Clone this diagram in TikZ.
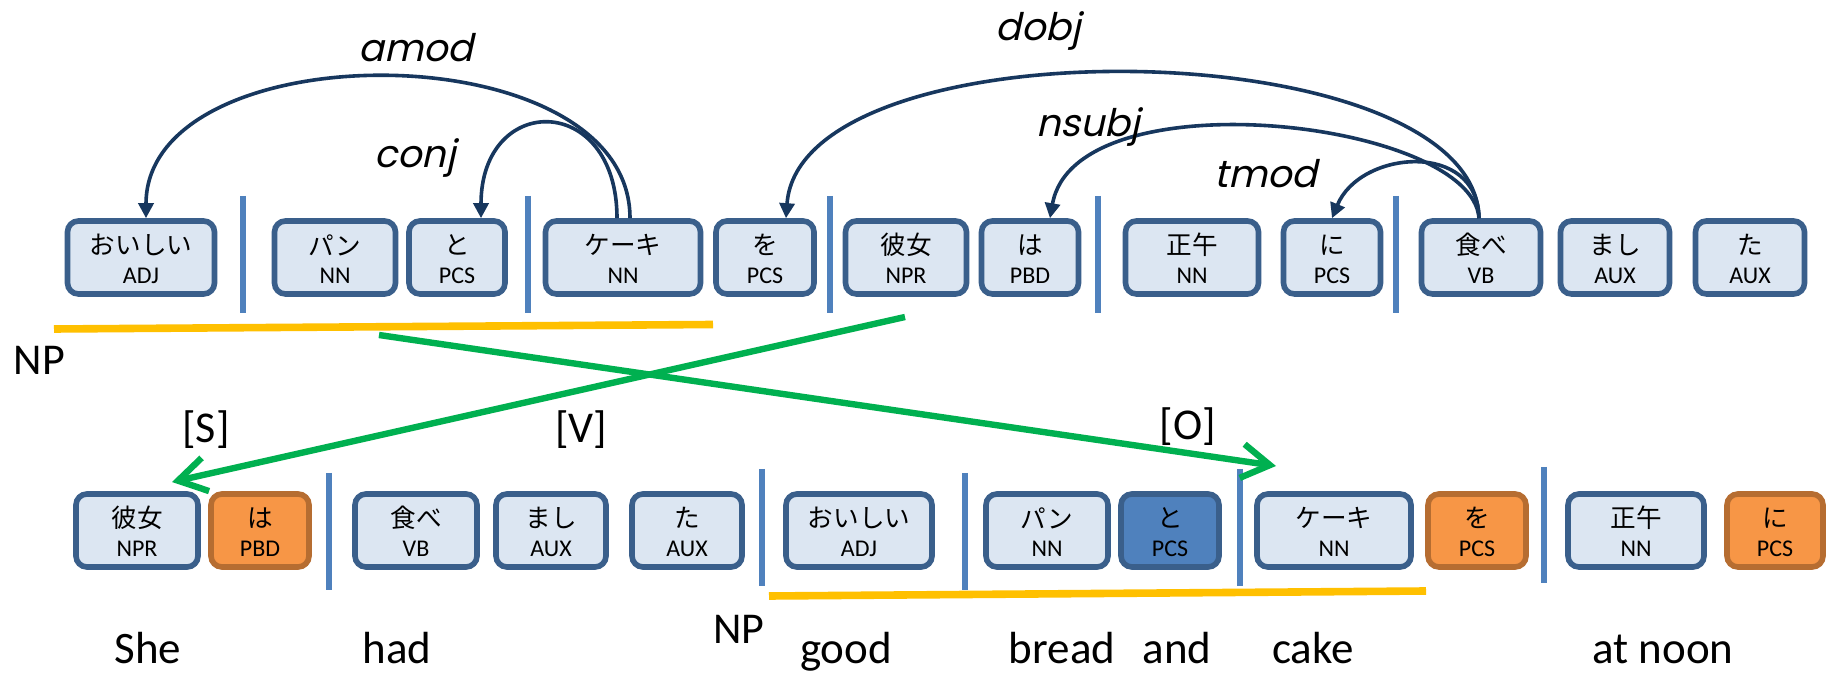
\documentclass[tikz,border=0pt]{standalone}
\usepackage{fontspec}
\setmainfont{Carlito}
\newfontfamily\jpfont{Noto Sans CJK JP}
\newfontfamily\arcfont[FakeSlant=0.22]{Poppins}
\usetikzlibrary{arrows.meta,calc}

\definecolor{boxfill}{HTML}{DCE6F2}
\definecolor{boxdraw}{HTML}{3A5F8B}
\definecolor{sepcol}{HTML}{4F81BD}
\definecolor{arccol}{HTML}{17375E}
\definecolor{grn}{HTML}{00B050}
\definecolor{ylw}{HTML}{FFC000}
\definecolor{orgfill}{HTML}{F79646}
\definecolor{orgdraw}{HTML}{B66D31}

\tikzset{
  wbox/.style={draw=boxdraw, fill=boxfill, line width=2.8pt, rounded corners=5.5pt,
               minimum height=36.5pt, inner sep=0pt},
  obox/.style={wbox, draw=orgdraw, fill=orgfill},
  dbox/.style={wbox, fill=sepcol},
  jpt/.style={font=\jpfont\fontsize{12.8pt}{14pt}\selectfont, inner sep=0pt},
  post/.style={font=\fontsize{12pt}{14pt}\selectfont, inner sep=0pt},
  sepline/.style={draw=sepcol, line width=3pt},
  ulin/.style={draw=ylw, line width=3.8pt},
  arcl/.style={draw=arccol, line width=1.8pt, -{Triangle[length=7.5pt,width=7.5pt]}},
  garrow/.style={draw=grn, line width=3.2pt, -{Straight Barb[length=14pt,width=17pt]}},
  arclab/.style={font=\arcfont\fontsize{19pt}{22pt}\selectfont, inner sep=0pt, anchor=base},
  word/.style={font=\fontsize{22.5pt}{27pt}\selectfont, inner sep=0pt, anchor=base},
  tag/.style={font=\fontsize{22pt}{26pt}\selectfont, inner sep=0pt},
}

\newcommand\mkbox[7]{%
  \node[#1, minimum width=#5] (#2) at (#3,#4) {};
  \node[jpt] (#2j) at ($(#2.center)+(0,-12.5)$) {#6};
  \node[post] (#2p) at ($(#2.center)+(0,18.5)$) {#7};
}

\begin{document}
\begin{tikzpicture}[x=0.5pt, y=-0.5pt]
\fill[white] (0,0) rectangle (1827,673);
\useasboundingbox (0,0) rectangle (1827,673);

% ---- top row ----
\mkbox{wbox}{t1}{141}{257.5}{73.5pt}{おいしい}{ADJ}
\mkbox{wbox}{t2}{335}{257.5}{60.5pt}{パン}{NN}
\mkbox{wbox}{t3}{457}{257.5}{48pt}{と}{PCS}
\mkbox{wbox}{t4}{623}{257.5}{77.5pt}{ケーキ}{NN}
\mkbox{wbox}{t5}{765}{257.5}{49pt}{を}{PCS}
\mkbox{wbox}{t6}{906}{257.5}{60.5pt}{彼女}{NPR}
\mkbox{wbox}{t7}{1030}{257.5}{48.5pt}{は}{PBD}
\mkbox{wbox}{t8}{1192}{257.5}{66.5pt}{正午}{NN}
\mkbox{wbox}{t9}{1332}{257.5}{48.5pt}{に}{PCS}
\mkbox{wbox}{t10}{1481}{257.5}{59.5pt}{食べ}{VB}
\mkbox{wbox}{t11}{1615}{257.5}{54.5pt}{まし}{AUX}
\mkbox{wbox}{t12}{1750}{257.5}{54.5pt}{た}{AUX}

\draw[sepline] (243,196) -- (243,313);
\draw[sepline] (528,196) -- (528,313);
\draw[sepline] (830,196) -- (830,313);
\draw[sepline] (1097.5,196) -- (1097.5,313);
\draw[sepline] (1396,196) -- (1396,313);

% ---- bottom row ----
\mkbox{wbox}{b1}{137}{530.5}{61pt}{彼女}{NPR}
\mkbox{obox}{b2}{260}{530.5}{49pt}{は}{PBD}
\mkbox{wbox}{b3}{416}{530.5}{61pt}{食べ}{VB}
\mkbox{wbox}{b4}{551}{530.5}{55pt}{まし}{AUX}
\mkbox{wbox}{b5}{687}{530.5}{55pt}{た}{AUX}
\mkbox{wbox}{b6}{859}{530.5}{73pt}{おいしい}{ADJ}
\mkbox{wbox}{b7}{1047}{530.5}{61pt}{パン}{NN}
\mkbox{dbox}{b8}{1170}{530.5}{49pt}{と}{PCS}
\mkbox{wbox}{b9}{1334}{530.5}{77pt}{ケーキ}{NN}
\mkbox{obox}{b10}{1477}{530.5}{49pt}{を}{PCS}
\mkbox{wbox}{b11}{1636}{530.5}{68pt}{正午}{NN}
\mkbox{obox}{b12}{1775}{530.5}{48pt}{に}{PCS}

\draw[sepline] (328.6,473) -- (328.6,590);
\draw[sepline] (761.6,469) -- (761.6,586);
\draw[sepline] (965,473) -- (965,590);
\draw[sepline] (1240,469) -- (1240,586);
\draw[sepline] (1544,467) -- (1544,583);

% ---- NP underlines ----
\draw[ulin] (54,329) -- (713,324.5);
\draw[ulin] (769,596) -- (1426,591);
\node[tag] (np1) at (39.5,360) {NP};
\node[tag] (np2) at (739,629) {NP};

% ---- dependency arcs ----
\draw[arcl] ($(t4.north)+(7,0)$) .. controls (630,30) and (146,30) .. ($(t1.north)+(5,0)$);
\draw[arcl] ($(t4.north)+(-6,0)$) .. controls (617,92) and (481,92) .. ($(t3.north)+(24,0)$);
\draw[arcl] ($(t10.north)+(-2,0)$) .. controls (1475,30) and (800,20) .. ($(t5.north)+(21,0)$);
\draw[arcl] ($(t10.north)+(-2,0)$) .. controls (1472,120) and (1075,75) .. ($(t7.north)+(20,0)$);
\draw[arcl] ($(t10.north)+(-2,0)$) .. controls (1478,140) and (1360,150) .. (t9.north);

\node[arclab] (lamod) at (416,62) {amod};
\node[arclab] (lconj) at (415,168) {conj};
\node[arclab] (ldobj) at (1038,40.5) {dobj};
\node[arclab] (lnsubj) at (1088,137) {nsubj};
\node[arclab] (ltmod) at (1266,188) {tmod};

% ---- green reordering arrows ----
\coordinate (g1s) at (905,317);
\coordinate (g1e) at (172,482);
\coordinate (g2s) at (379,335);
\coordinate (g2e) at (1276,466);
\draw[garrow] (g1s) -- (g1e);
\draw[garrow] (g2s) -- (g2e);

\node[tag] (ls) at (206,430) {[S]};
\node[tag] (lv) at (581,430) {[V]};
\node[tag] (lo) at (1188,427) {[O]};

% ---- English gloss ----
\node[word] (w1) at (148,663) {She};
\node[word] (w2) at (397,663) {had};
\node[word] (w3) at (846,663) {good};
\node[word] (w4) at (1062,663) {bread};
\node[word] (w5) at (1177,663) {and};
\node[word] (w6) at (1313,663) {cake};
\node[word] (w7) at (1663,663) {at noon};
\end{tikzpicture}
\end{document}
